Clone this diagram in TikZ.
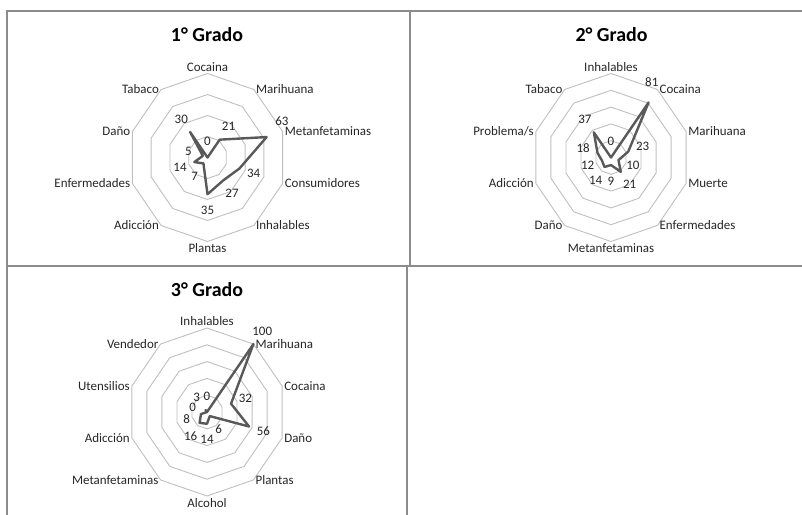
\documentclass[tikz,border=0pt]{standalone}
\usepackage{fontspec}
\setmainfont{Carlito}
\usetikzlibrary{calc}

\definecolor{gridgray}{RGB}{191,191,191}
\definecolor{seriesgray}{RGB}{89,89,89}
\definecolor{framegray}{RGB}{140,140,140}

\tikzset{
  catlabel/.style={font=\fontsize{13}{15}\selectfont, text=black!85, inner sep=2bp},
  datalabel/.style={font=\fontsize{13}{15}\selectfont, text=black!85, inner sep=0pt},
  charttitle/.style={font=\fontsize{20}{24}\selectfont\bfseries, anchor=base},
  ring/.style={draw=gridgray, line width=0.9bp},
  series/.style={draw=seriesgray, line width=2.4bp, line join=round},
  frame/.style={draw=framegray, line width=2bp}
}

\newcommand\radR{84}
% radar chart: #1 name, #2 max value, #3 categories, #4 value/dx/dy
\newcommand\radar[4]{%
  \pgfmathtruncatemacro\nrings{#2/20}
  % rings
  \foreach \k in {1,...,\nrings}
    \draw[ring] (-90:{\radR*\k/\nrings}) \foreach \i in {1,...,9} {-- ({-90+36*\i}:{\radR*\k/\nrings})} -- cycle;
  % categories
  \foreach \lab [count=\i from 0] in {#3} {
    \edef\anc{\ifcase\i south\or west\or west\or west\or west\or north\else east\fi}
    \node[catlabel, anchor=\anc] (#1-c\i) at ({-90+36*\i}:\radR) {\lab};
  }
  % values
  \foreach \v/\dx/\dy [count=\i from 0] in {#4} {
    \coordinate (#1-p\i) at ({-90+36*\i}:{\radR*\v/#2});
    \node[datalabel] (#1-v\i) at ($({-90+36*\i}:{\radR*\v/#2+16})+(\dx,\dy)$) {\v};
  }
  \draw[series] (#1-p0) \foreach \i in {1,...,9} {-- (#1-p\i)} -- cycle;
}

\begin{document}
\begin{tikzpicture}[x=1bp, y=-1bp]
  \useasboundingbox (0,0) rectangle (802,515);

  % table frame
  \coordinate (ftl) at (6.5,11.5);
  \coordinate (ftr) at (802,11.5);
  \coordinate (fbl) at (6.5,515);
  \coordinate (fmt) at (409.5,11.5);
  \coordinate (fmm) at (409.5,266);
  \coordinate (fml) at (6.5,266);
  \coordinate (fmr) at (802,266);
  \coordinate (flm) at (407,266);
  \coordinate (flb) at (407,515);
  \draw[frame] (fbl) -- (ftl) -- (ftr);
  \draw[frame] (fmt) -- (fmm);
  \draw[frame] (fml) -- (fmr);
  \draw[frame] (flm) -- (flb);

  % 1st grade
  \node[charttitle] (t1) at (207,41.5) {1° Grado};
  \begin{scope}[shift={(207.5,157.5)}, xscale=0.94]
    \radar{g1}{80}{Cocaina, Marihuana, Metanfetaminas, Consumidores, Inhalables, Plantas, Adicción, Enfermedades, Daño, Tabaco}
      {0/0/0, 21/0/0, 63/1/-11, 34/0/0, 27/0/0, 35/0/0, 7/0/0, 14/0/0, 5/0/0, 30/0/0}
  \end{scope}

  % 2nd grade
  \node[charttitle] (t2) at (611.5,41.5) {2° Grado};
  \begin{scope}[shift={(611,157.5)}, xscale=0.94]
    \radar{g2}{100}{Inhalables, Cocaina, Marihuana, Muerte, Enfermedades, Metanfetaminas, Daño, Adicción, Problema/s, Tabaco}
      {0/0/0, 81/-6/-7, 23/0/0, 10/0/0, 21/0/0, 9/0/0, 14/0/0, 12/0/0, 18/0/0, 37/0/0}
  \end{scope}

  % 3rd grade
  \node[charttitle] (t3) at (207,297) {3° Grado};
  \begin{scope}[shift={(207,412)}, xscale=0.94]
    \radar{g3}{100}{Inhalables, Marihuana, Cocaina, Daño, Plantas, Alcohol, Metanfetaminas, Adicción, Utensilios, Vendedor}
      {0/0/0, 100/0/0, 32/0/0, 56/0/0, 6/0/0, 14/0/0, 16/0/0, 8/0/0, 0/0/0, 3/0/0}
  \end{scope}
\end{tikzpicture}
\end{document}
